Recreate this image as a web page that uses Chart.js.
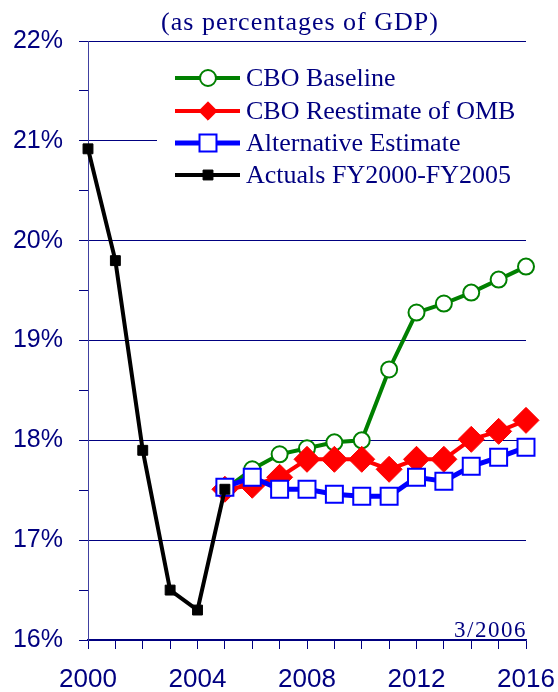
<!DOCTYPE html>
<html>
<head>
<meta charset="utf-8">
<script src="https://cdn.jsdelivr.net/npm/chart.js@4/dist/chart.umd.min.js"></script>
<style>
  html, body { margin: 0; padding: 0; background: #fff; }
  canvas { display: block; }
</style>
</head>
<body>
<canvas id="revChart" width="558" height="692"></canvas>
<script>
// Federal revenues as % of GDP — actuals and projections

const YEARS = ['2000', '2001', '2002', '2003', '2004', '2005', '2006', '2007', '2008',
               '2009', '2010', '2011', '2012', '2013', '2014', '2015', '2016'];

const ACTUALS     = [20.92, 19.80, 17.90, 16.50, 16.30, 17.51, null, null, null,
                     null, null, null, null, null, null, null, null];
const BASELINE    = [null, null, null, null, null, 17.51, 17.71, 17.86, 17.92,
                     17.98, 18.00, 18.71, 19.28, 19.37, 19.48, 19.61, 19.74];
const REESTIMATE  = [null, null, null, null, null, 17.51, 17.55, 17.63, 17.81,
                     17.81, 17.81, 17.71, 17.81, 17.81, 18.01, 18.09, 18.20];
const ALTERNATIVE = [null, null, null, null, null, 17.53, 17.63, 17.51, 17.51,
                     17.46, 17.44, 17.44, 17.63, 17.59, 17.74, 17.83, 17.93];

const NAVY = '#000080';
const SERIF = '"Liberation Serif", "Times New Roman", serif';
const SANS = '"Liberation Sans", Arial, sans-serif';

const datasets = [
  {
    label: 'CBO Baseline', data: BASELINE, order: 3,
    borderColor: '#008000', borderWidth: 4,
    pointStyle: 'circle', pointRadius: 8, pointBorderWidth: 2,
    pointBackgroundColor: '#fff', pointBorderColor: '#008000'
  },
  {
    label: 'CBO Reestimate of OMB', data: REESTIMATE, order: 2,
    borderColor: '#ff0000', borderWidth: 4,
    pointStyle: 'rectRot', pointRadius: 13, pointBorderWidth: 1,
    pointBackgroundColor: '#ff0000', pointBorderColor: '#ff0000'
  },
  {
    label: 'Alternative Estimate', data: ALTERNATIVE, order: 1,
    borderColor: '#0000ff', borderWidth: 5,
    pointStyle: 'rect', pointRadius: 12, pointBorderWidth: 2,
    pointBackgroundColor: '#fff', pointBorderColor: '#0000ff'
  },
  {
    label: 'Actuals FY2000-FY2005', data: ACTUALS, order: 0,
    borderColor: '#000', borderWidth: 4,
    pointStyle: 'rect', pointRadius: 7, pointBorderWidth: 1,
    pointBackgroundColor: '#000', pointBorderColor: '#000'
  }
].map(d => Object.assign({ tension: 0, spanGaps: false, fill: false }, d));

// draws one marker the same way as the chart points
function drawMarker(ctx, ds, x, y) {
  const r = ds.pointRadius;
  ctx.save();
  ctx.fillStyle = ds.pointBackgroundColor;
  ctx.strokeStyle = ds.pointBorderColor;
  ctx.lineWidth = ds.pointBorderWidth;
  ctx.beginPath();
  if (ds.pointStyle === 'circle') {
    ctx.arc(x, y, r, 0, Math.PI * 2);
  } else if (ds.pointStyle === 'rectRot') {
    const s = r * Math.SQRT1_2;
    ctx.moveTo(x - s, y); ctx.lineTo(x, y + s); ctx.lineTo(x + s, y); ctx.lineTo(x, y - s);
    ctx.closePath();
  } else {
    const s = r * Math.SQRT1_2;
    ctx.rect(x - s, y - s, 2 * s, 2 * s);
  }
  ctx.fill();
  ctx.stroke();
  ctx.restore();
}

const decorations = {
  id: 'decorations',
  afterDraw(chart) {
    const ctx = chart.ctx;
    const area = chart.chartArea;
    ctx.save();

    // title
    ctx.fillStyle = NAVY;
    ctx.font = '26px ' + SERIF;
    ctx.letterSpacing = '1px';
    ctx.textAlign = 'center';
    ctx.textBaseline = 'alphabetic';
    ctx.fillText('(as percentages of GDP)', 300, 30);

    // date stamp
    ctx.font = '23px ' + SERIF;
    ctx.letterSpacing = '1.5px';
    ctx.textAlign = 'right';
    ctx.fillText('3/2006', area.right + 1, 637);
    ctx.letterSpacing = '0px';

    // legend box
    ctx.fillStyle = '#fff';
    ctx.fillRect(157, 58, area.right + 4 - 157, 136);
    const rows = [78, 111, 143, 175];
    datasets.forEach((ds, i) => {
      const y = rows[i];
      ctx.strokeStyle = ds.borderColor;
      ctx.lineWidth = ds.borderWidth;
      ctx.beginPath();
      ctx.moveTo(175, y);
      ctx.lineTo(240, y);
      ctx.stroke();
      drawMarker(ctx, ds, 208, y);
      ctx.fillStyle = NAVY;
      ctx.font = '26px ' + SERIF;
      ctx.textAlign = 'left';
      ctx.textBaseline = 'middle';
      ctx.fillText(ds.label, 246, y + 1);
    });
    ctx.restore();
  }
};

new Chart(document.getElementById('revChart'), {
  type: 'line',
  data: { labels: YEARS, datasets },
  plugins: [decorations],
  options: {
    responsive: false,
    animation: false,
    layout: { padding: { top: 41, right: 32, left: 0, bottom: 0 } },
    plugins: { legend: { display: false }, tooltip: { enabled: false } },
    scales: {
      x: {
        type: 'category',
        offset: false,
        afterFit: s => { s.height = 52; s.paddingLeft = 0; s.paddingRight = 0; },
        border: { color: NAVY, width: 1.5 },
        grid: { drawOnChartArea: false, tickLength: 9, color: NAVY, tickColor: NAVY },
        ticks: {
          autoSkip: false, maxRotation: 0, padding: 15,
          color: NAVY, font: { size: 26, family: SANS },
          callback: (v, i) => (i % 4 === 0 ? YEARS[i] : '')
        }
      },
      y: {
        min: 16, max: 22,
        afterFit: s => { s.width = 88; s.paddingTop = 0; s.paddingBottom = 0; },
        border: { color: '#4040a0', width: 1 },
        grid: {
          tickLength: 9,
          tickColor: NAVY,
          color: c => (c.tick && c.tick.value % 1 === 0 ? NAVY : 'rgba(0,0,0,0)'),
          lineWidth: 1
        },
        ticks: {
          stepSize: 0.5, autoSkip: false, padding: 16,
          color: NAVY, font: { size: 25, family: SANS },
          callback: v => (v % 1 === 0 ? v + '%' : '')
        }
      }
    }
  }
});
</script>
</body>
</html>
